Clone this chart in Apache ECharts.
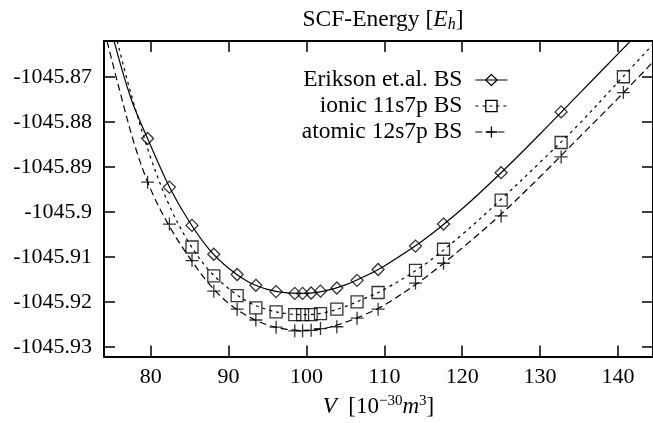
<!DOCTYPE html>
<html><head><meta charset="utf-8">
<script src="https://cdn.jsdelivr.net/npm/echarts@6/dist/echarts.min.js"></script>
<style>html,body{margin:0;padding:0;background:#fff}#c{width:653px;height:423px}</style>
</head><body><div id="c"></div>
<script>
// ---- tick labels ----
const xTicks = [80, 90, 100, 110, 120, 130, 140];
const yTicks = [-1045.93, -1045.92, -1045.91, -1045.9, -1045.89, -1045.88, -1045.87];
const seriesNames = ['Erikson et.al. BS', 'ionic 11s7p BS', 'atomic 12s7p BS'];

// ---- data points ----
const eriksonV = [79.6, 82.4, 85.3, 88.1, 91.1, 93.5, 96.1, 98.5, 99.5, 100.6, 101.8, 103.9, 106.5, 109.2, 114.0, 117.6, 125.0, 132.7];
const eriksonE = [-1045.8837, -1045.8945, -1045.9030, -1045.9094, -1045.9139, -1045.9163, -1045.9177, -1045.9181, -1045.9181, -1045.9180, -1045.9176, -1045.9169, -1045.9152, -1045.9128, -1045.9076, -1045.9027, -1045.8913, -1045.8778];

const ionicV = [85.3, 88.1, 91.1, 93.5, 96.1, 98.5, 99.5, 100.6, 101.8, 103.9, 106.5, 109.2, 114.0, 117.6, 125.0, 132.7, 140.7];
const ionicE = [-1045.9078, -1045.9142, -1045.9186, -1045.9213, -1045.9222, -1045.9228, -1045.9228, -1045.9228, -1045.9226, -1045.9216, -1045.9200, -1045.9179, -1045.9130, -1045.9083, -1045.8974, -1045.8846, -1045.8700];

const atomicV = [79.6, 82.4, 85.3, 88.1, 91.1, 93.5, 96.1, 98.5, 99.5, 100.6, 101.8, 103.9, 106.5, 109.2, 114.0, 117.6, 125.0, 132.7, 140.7];
const atomicE = [-1045.8934, -1045.9027, -1045.9108, -1045.9176, -1045.9216, -1045.9240, -1045.9256, -1045.9264, -1045.9264, -1045.9263, -1045.9259, -1045.9255, -1045.9236, -1045.9216, -1045.9158, -1045.9114, -1045.9009, -1045.8878, -1045.8735];

// ---- fitted curves ----
const eriksonFitV = [75.3, 77.5, 80, 82.5, 85, 87.5, 90, 92.5, 95, 97.5, 100, 102.5, 105, 107.5, 110, 115, 120, 125, 130, 135, 141.6];
const eriksonFitE = [-1045.8621, -1045.8750, -1045.8853, -1045.8948, -1045.9023, -1045.9083, -1045.9125, -1045.9155, -1045.9172, -1045.9180, -1045.9181, -1045.9175, -1045.9162, -1045.9143, -1045.9120, -1045.9063, -1045.8993, -1045.8913, -1045.8827, -1045.8738, -1045.8621];

const ionicFitV = [75.7, 77.5, 80, 82.5, 85, 87.5, 90, 92.5, 95, 97.5, 100, 102.5, 105, 107.5, 110, 115, 120, 125, 130, 135, 140, 144.5];
const ionicFitE = [-1045.8621, -1045.8740, -1045.8880, -1045.8990, -1045.9071, -1045.9130, -1045.9170, -1045.9200, -1045.9217, -1045.9226, -1045.9228, -1045.9223, -1045.9210, -1045.9192, -1045.9172, -1045.9119, -1045.9050, -1045.8972, -1045.8890, -1045.8805, -1045.8712, -1045.8628];

const atomicFitV = [74.4, 76, 78, 80, 82.5, 85, 87.5, 90, 92.5, 95, 97.5, 100, 102.5, 105, 107.5, 110, 115, 120, 125, 130, 135, 140, 144.5];
const atomicFitE = [-1045.8621, -1045.8730, -1045.8855, -1045.8950, -1045.9035, -1045.9102, -1045.9160, -1045.9203, -1045.9232, -1045.9251, -1045.9261, -1045.9263, -1045.9258, -1045.9245, -1045.9228, -1045.9207, -1045.9149, -1045.9080, -1045.9005, -1045.8922, -1045.8835, -1045.8748, -1045.8667];

const FONT = 'Liberation Serif';
const pair = (xs, ys) => xs.map((x, i) => [x, ys[i]]);
const plusPath = 'path://M5,0 L5,10 M0,5 L10,5';
const dashes = ['solid', [3, 4], [7, 4]];
const symbols = ['diamond', 'rect', plusPath];
const symSizes = [12, 12, 13];

const chart = echarts.init(document.getElementById('c'), null, {renderer: 'canvas'});

const axisCommon = {
  type: 'value',
  axisLine: {show: true, lineStyle: {color: '#000', width: 2}},
  splitLine: {show: false},
  axisTick: {show: true, inside: true, length: 11, lineStyle: {color: '#000', width: 1.5}},
};

const fits = [pair(eriksonFitV, eriksonFitE), pair(ionicFitV, ionicFitE), pair(atomicFitV, atomicFitE)];
const pts = [pair(eriksonV, eriksonE), pair(ionicV, ionicE), pair(atomicV, atomicE)];

const series = [];
for (let k = 0; k < 3; k++) {
  series.push({
    name: seriesNames[k], type: 'line', data: fits[k], smooth: 0.35,
    symbol: symbols[k], symbolSize: symSizes[k], showSymbol: false,
    lineStyle: {color: '#000', width: 1.2, type: dashes[k]},
    itemStyle: {color: 'rgba(0,0,0,0)', borderColor: '#000', borderWidth: 1.3},
    emphasis: {disabled: true}, silent: true, z: 2
  });
}
for (let k = 0; k < 3; k++) {
  series.push({
    name: seriesNames[k] + ' points', type: 'scatter', data: pts[k],
    symbol: symbols[k], symbolSize: symSizes[k],
    itemStyle: {color: 'rgba(0,0,0,0)', borderColor: '#000', borderWidth: 1.3},
    emphasis: {disabled: true}, silent: true, z: 3
  });
}

const BIG = 23.5;
const richBase = {fontFamily: FONT, fontSize: BIG, color: '#000', fontWeight: 'normal', lineHeight: 26, verticalAlign: 'middle'};

chart.setOption({
  animation: false,
  backgroundColor: '#fff',
  title: {
    text: '{a|SCF-Energy [}{i|E}{s|h}{a|]}',
    left: 378, top: 2, textAlign: 'center',
    textStyle: {
      fontWeight: 'normal',
      rich: {
        a: richBase,
        i: Object.assign({}, richBase, {fontStyle: 'italic'}),
        s: {fontFamily: FONT, fontSize: 16, fontStyle: 'italic', fontWeight: 'normal', color: '#000', lineHeight: 15, verticalAlign: 'bottom'}
      }
    }
  },
  legend: {
    data: seriesNames.map((n, k) => ({name: n, lineStyle: {type: dashes[k]}})),
    orient: 'vertical', right: 140, top: 63, align: 'right',
    itemWidth: 32, itemHeight: 14, itemGap: 2,
    selectedMode: false,
    textStyle: {fontFamily: FONT, fontSize: BIG, color: '#000', padding: [0, 8, 0, 0]},
    itemStyle: {color: 'rgba(0,0,0,0)', borderColor: '#000', borderWidth: 1.3},
    lineStyle: {color: '#000', width: 1.2}
  },
  grid: {left: 104, right: 0, top: 41, bottom: 53, containLabel: false},
  xAxis: [
    Object.assign({}, axisCommon, {
      min: 74, max: 144.5, position: 'bottom',
      axisTick: Object.assign({}, axisCommon.axisTick, {customValues: xTicks}),
      axisLabel: {customValues: xTicks, fontFamily: FONT, fontSize: 22, color: '#000', margin: 10},
      name: '{i|V}{a|  [10}{p|−30}{i|m}{p|3}{a|]}',
      nameLocation: 'middle', nameGap: 31,
      nameTextStyle: {
        rich: {
          a: Object.assign({}, richBase, {fontSize: 23}),
          i: Object.assign({}, richBase, {fontSize: 23, fontStyle: 'italic'}),
          p: {fontFamily: FONT, fontSize: 15, color: '#000', lineHeight: 15, verticalAlign: 'top'}
        }
      }
    }),
    Object.assign({}, axisCommon, {
      min: 74, max: 144.5, position: 'top',
      axisTick: Object.assign({}, axisCommon.axisTick, {customValues: xTicks}),
      axisLabel: {show: false}
    })
  ],
  yAxis: [
    Object.assign({}, axisCommon, {
      min: -1045.93213, max: -1045.86206, position: 'left',
      axisTick: Object.assign({}, axisCommon.axisTick, {customValues: yTicks}),
      axisLabel: {customValues: yTicks, fontFamily: FONT, fontSize: 22, color: '#000', margin: 12,
        formatter: v => String(parseFloat(Number(v).toFixed(2)))}
    }),
    Object.assign({}, axisCommon, {
      min: -1045.93213, max: -1045.86206, position: 'right',
      axisTick: Object.assign({}, axisCommon.axisTick, {customValues: yTicks}),
      axisLabel: {show: false}
    })
  ],
  series: series
});
</script>
</body></html>
